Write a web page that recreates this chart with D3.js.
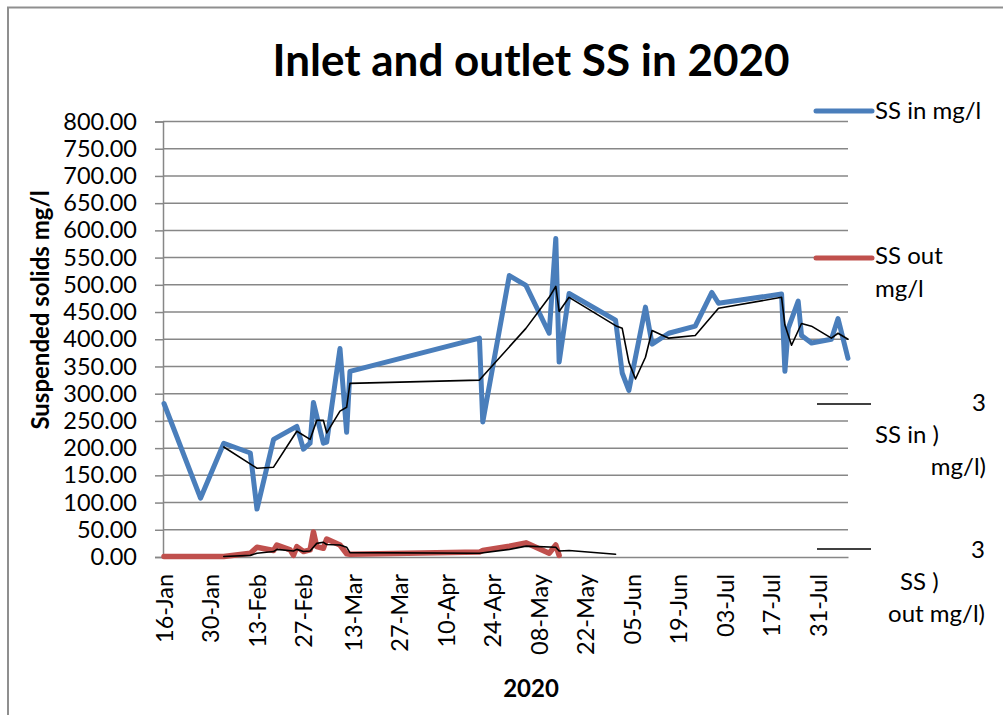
<!DOCTYPE html>
<html>
<head>
<meta charset="utf-8">
<script src="https://cdn.jsdelivr.net/npm/d3@7"></script>
<style>
  body { margin: 0; background: #fff; }
  svg { display: block; font-family: Lato, "Open Sans", sans-serif; }
</style>
</head>
<body>
<svg id="chart" width="1003" height="715"></svg>
<script>
// values
const tickDates = ["2020-01-16", "2020-01-30", "2020-02-13", "2020-02-27", "2020-03-13", "2020-03-27", "2020-04-10",
    "2020-04-24", "2020-05-08", "2020-05-22", "2020-06-05", "2020-06-19", "2020-07-03", "2020-07-17", "2020-07-31"];
const yTicks = [0, 50, 100, 150, 200, 250, 300, 350, 400, 450, 500, 550, 600, 650, 700, 750, 800];

const inDates = ["2020-01-16", "2020-01-27", "2020-02-03", "2020-02-11", "2020-02-13", "2020-02-18", "2020-02-25",
    "2020-02-27", "2020-02-29", "2020-03-01", "2020-03-04", "2020-03-05", "2020-03-09", "2020-03-11", "2020-03-12",
    "2020-04-20", "2020-04-21", "2020-04-29", "2020-05-04", "2020-05-11", "2020-05-13", "2020-05-14", "2020-05-17",
    "2020-05-31", "2020-06-02", "2020-06-04", "2020-06-09", "2020-06-11", "2020-06-16", "2020-06-24", "2020-06-29",
    "2020-07-01", "2020-07-20", "2020-07-21", "2020-07-22", "2020-07-25", "2020-07-26", "2020-07-29", "2020-08-04",
    "2020-08-06", "2020-08-09"];
const inValues = [282, 108, 209, 191, 88, 216, 240, 198, 209, 284, 209, 211, 383, 229, 341,
    402, 248, 517, 499, 411, 585, 358, 484, 435, 338, 306, 459, 391, 411, 424, 486,
    466, 483, 341, 420, 470, 407, 393, 400, 438, 365];

const inAvgDates = ["2020-02-03", "2020-02-13", "2020-02-18", "2020-02-25", "2020-02-29", "2020-03-02", "2020-03-04",
    "2020-03-05", "2020-03-09", "2020-03-11", "2020-03-12", "2020-04-20", "2020-05-04", "2020-05-11", "2020-05-13",
    "2020-05-14", "2020-05-17", "2020-05-31", "2020-06-02", "2020-06-04", "2020-06-06", "2020-06-09", "2020-06-11",
    "2020-06-16", "2020-06-24", "2020-07-01", "2020-07-20", "2020-07-21", "2020-07-23", "2020-07-26", "2020-07-29",
    "2020-08-04", "2020-08-06", "2020-08-09"];
const inAvgValues = [202, 163, 165, 231, 216, 251, 251, 228, 268, 275, 319, 325, 420, 477, 497,
    451, 477, 425, 420, 358, 327, 367, 416, 402, 407, 457, 477, 426, 389, 429, 424,
    402, 411, 400];

const outDates = ["2020-01-16", "2020-02-03", "2020-02-11", "2020-02-13", "2020-02-18", "2020-02-19", "2020-02-23",
    "2020-02-24", "2020-02-25", "2020-02-27", "2020-02-29", "2020-03-01", "2020-03-02", "2020-03-04", "2020-03-05",
    "2020-03-09", "2020-03-11", "2020-03-12", "2020-04-20", "2020-04-21", "2020-04-29", "2020-05-04", "2020-05-11",
    "2020-05-13", "2020-05-14"];
const outValues = [1, 1, 7, 18, 12, 22, 13, 3, 19, 10, 13, 46, 19, 16, 33,
    22, 6, 5, 9, 12, 20, 26, 7, 22, 3];

const outAvgDates = ["2020-02-03", "2020-02-11", "2020-02-13", "2020-02-18", "2020-02-19", "2020-02-24", "2020-02-25",
    "2020-02-27", "2020-02-29", "2020-03-02", "2020-03-04", "2020-03-05", "2020-03-09", "2020-03-11", "2020-03-12",
    "2020-04-20", "2020-04-29", "2020-05-04", "2020-05-13", "2020-05-14", "2020-05-17", "2020-05-31"];
const outAvgValues = [1, 3, 7, 10, 14, 11, 14, 10, 11, 25, 27, 23, 22, 18, 8,
    7, 14, 20, 18, 11, 12, 5];

const blue = "#4a7ebb";
const red = "#c0504d";
const grid = "#878787";

const parse = d3.timeParse("%Y-%m-%d");
const svg = d3.select("#chart");

const x = d3.scaleTime()
    .domain([parse("2020-01-16"), parse("2020-08-09")])
    .range([164, 848]);
const y = d3.scaleLinear().domain([0, 800]).range([557, 121.5]);

const zip = (dates, values) => dates.map((d, i) => ({date: parse(d), value: values[i]}));
const line = d3.line().x(d => x(d.date)).y(d => y(d.value));

// outer frame
svg.append("path")
    .attr("d", "M8,715 V7.5 H1003")
    .attr("fill", "none")
    .attr("stroke", "#8f8f8f")
    .attr("stroke-width", 2);

// horizontal grid
svg.append("g")
    .selectAll("line")
    .data(yTicks.filter(v => v > 0))
    .join("line")
    .attr("x1", 163).attr("x2", 848)
    .attr("y1", d => y(d)).attr("y2", d => y(d))
    .attr("stroke", grid)
    .attr("stroke-width", 1.5);

// y axis
const yAxis = svg.append("g")
    .attr("transform", "translate(163,0)")
    .call(d3.axisLeft(y).tickValues(yTicks).tickSize(8).tickPadding(18).tickFormat(d3.format(".2f")));
yAxis.select(".domain").attr("stroke", grid).attr("stroke-width", 1.5);
yAxis.selectAll(".tick line").attr("stroke", grid).attr("stroke-width", 1.5);
yAxis.selectAll(".tick text")
    .attr("fill", "#000")
    .style("font-size", "23.5px")
    .style("font-family", "Lato");

// x axis
const xAxis = svg.append("g")
    .attr("transform", "translate(0,557)")
    .call(d3.axisBottom(x).tickValues(tickDates.map(parse)).tickSize(0).tickFormat(d3.timeFormat("%d-%b")));
xAxis.select(".domain").attr("stroke", grid).attr("stroke-width", 1.5);
xAxis.selectAll(".tick text")
    .attr("fill", "#000")
    .attr("transform", "rotate(-90)")
    .attr("text-anchor", "end")
    .attr("x", -17)
    .attr("y", 0)
    .attr("dy", "0.35em")
    .style("font-size", "23.5px")
    .style("font-family", "Lato");

// series
const series = [
    {data: zip(inDates, inValues), color: blue, width: 5},
    {data: zip(outDates, outValues), color: red, width: 5.5},
    {data: zip(inAvgDates, inAvgValues), color: "#000", width: 1.6},
    {data: zip(outAvgDates, outAvgValues), color: "#000", width: 1.6}
];
svg.append("g")
    .selectAll("path")
    .data(series)
    .join("path")
    .attr("d", d => line(d.data))
    .attr("fill", "none")
    .attr("stroke", d => d.color)
    .attr("stroke-width", d => d.width)
    .attr("stroke-linejoin", "round")
    .attr("stroke-linecap", "round");

// titles
svg.append("text")
    .attr("x", 531).attr("y", 76)
    .attr("text-anchor", "middle")
    .style("font-size", "44px")
    .style("font-weight", "bold")
    .text("Inlet and outlet SS in 2020");

svg.append("text")
    .attr("transform", "translate(49,310) rotate(-90)")
    .attr("text-anchor", "middle")
    .style("font-size", "24px")
    .style("font-weight", "bold")
    .text("Suspended solids mg/l");

svg.append("text")
    .attr("x", 531).attr("y", 697)
    .attr("text-anchor", "middle")
    .style("font-size", "24px")
    .style("font-weight", "bold")
    .text("2020");

// legend
const legend = svg.append("g").style("font-size", "24px");
const swatches = [
    {y: 111, color: blue, width: 5, x1: 816, x2: 872},
    {y: 258, color: red, width: 5, x1: 816, x2: 872},
    {y: 404, color: "#000", width: 1.6, x1: 817, x2: 871},
    {y: 549, color: "#000", width: 1.6, x1: 817, x2: 871}
];
legend.selectAll("line")
    .data(swatches)
    .join("line")
    .attr("x1", d => d.x1).attr("x2", d => d.x2)
    .attr("y1", d => d.y).attr("y2", d => d.y)
    .attr("stroke", d => d.color)
    .attr("stroke-width", d => d.width)
    .attr("stroke-linecap", d => d.width > 2 ? "round" : "butt");

const legendTexts = [
    {t: "SS in mg/l", x: 875, y: 111, a: "start"},
    {t: "SS out", x: 875, y: 256, a: "start"},
    {t: "mg/l", x: 875, y: 289, a: "start"},
    {t: "3", x: 986, y: 403, a: "end"},
    {t: "SS in )", x: 875, y: 435, a: "start"},
    {t: "mg/l)", x: 986, y: 467, a: "end"},
    {t: "3", x: 985, y: 550, a: "end"},
    {t: "SS )", x: 900, y: 582, a: "start"},
    {t: "out mg/l)", x: 985, y: 614, a: "end"}
];
legend.selectAll("text")
    .data(legendTexts)
    .join("text")
    .attr("x", d => d.x).attr("y", d => d.y)
    .attr("dy", "0.35em")
    .attr("text-anchor", d => d.a)
    .text(d => d.t);
</script>
</body>
</html>
